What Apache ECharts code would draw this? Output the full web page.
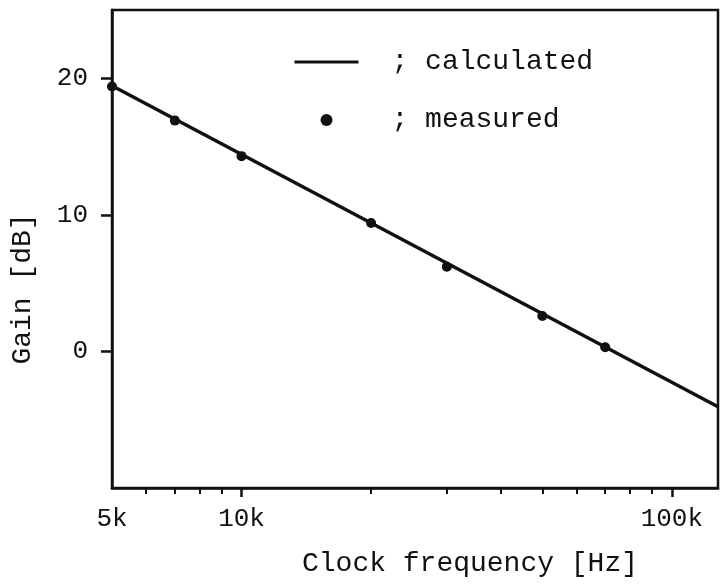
<!DOCTYPE html>
<html>
<head>
<meta charset="utf-8">
<script src="https://cdn.jsdelivr.net/npm/echarts@6/dist/echarts.min.js"></script>
<style>
  html, body { margin: 0; padding: 0; background: #fff; }
  #main { width: 721px; height: 584px; }
</style>
</head>
<body>
<div id="main"></div>
<script>
// measured points (frequency in Hz, gain in dB)
const freqMeasured = [5000, 7000, 10000, 20000, 30000, 50000, 70000];
const gainMeasured = [19.4, 16.9, 14.3, 9.4, 6.2, 2.6, 0.3];
// calculated straight line, end points
const freqCalc = [5000, 128000];
const gainCalc = [19.45, -4.05];
// axis ticks
const xLabelValues = [5000, 10000, 100000];
const xMajorTicks = [10000, 100000];
const xMinorTicks = [6000, 7000, 8000, 9000, 20000, 30000, 40000, 50000, 60000, 70000, 80000, 90000];
const yTicks = [0, 10, 20];

const font = 'Liberation Mono';
const black = '#111';

var myChart = echarts.init(document.getElementById('main'));

var option = {
  animation: false,
  backgroundColor: '#fff',
  grid: {
    left: 112, right: 3, top: 10, bottom: 96,
    show: true, borderColor: black, borderWidth: 2.5
  },
  legend: {
    data: [
      { name: 'calculated', itemStyle: { opacity: 0 }, lineStyle: { width: 3, color: black } },
      'measured'
    ],
    orient: 'vertical',
    left: 288, top: 43,
    itemWidth: 64, itemHeight: 12, itemGap: 30,
    formatter: '; {name}',
    textStyle: { fontFamily: font, fontSize: 28, color: black, padding: [0, 0, 0, 28] }
  },
  xAxis: [{
    type: 'log', logBase: 10, min: 5000, max: 128000,
    axisLine: { onZero: false, lineStyle: { color: black, width: 2.5 } },
    axisTick: { customValues: xMajorTicks, length: 9, lineStyle: { color: black, width: 2.5 } },
    axisLabel: {
      customValues: xLabelValues,
      formatter: v => Math.round(v / 1000) + 'k',
      fontFamily: font, fontSize: 26, color: black, margin: 18
    },
    splitLine: { show: false },
    name: 'Clock frequency [Hz]',
    nameLocation: 'middle', nameGap: 62,
    nameTextStyle: { fontFamily: font, fontSize: 28, color: black, padding: [0, 0, 0, 110] }
  }, {
    type: 'log', logBase: 10, min: 5000, max: 128000, position: 'bottom',
    axisLine: { show: false, onZero: false },
    axisTick: { customValues: xMinorTicks, length: 6, lineStyle: { color: black, width: 2 } },
    axisLabel: { show: false },
    splitLine: { show: false }
  }],
  yAxis: {
    type: 'value', min: -10, max: 25,
    axisLine: { onZero: false, lineStyle: { color: black, width: 2.5 } },
    axisTick: { customValues: yTicks, length: 11, lineStyle: { color: black, width: 2.5 } },
    axisLabel: { customValues: yTicks, fontFamily: font, fontSize: 26, color: black, margin: 24 },
    splitLine: { show: false }
  },
  graphic: [{
    type: 'text', x: 23, y: 289, rotation: Math.PI / 2,
    style: { text: 'Gain [dB]', fontFamily: font, fontSize: 28, fill: black,
             textAlign: 'center', textVerticalAlign: 'middle' }
  }],
  series: [{
    name: 'calculated', type: 'line',
    data: freqCalc.map((f, i) => [f, gainCalc[i]]),
    symbol: 'none', lineStyle: { color: black, width: 3.5 }, itemStyle: { color: black }
  }, {
    name: 'measured', type: 'scatter',
    data: freqMeasured.map((f, i) => [f, gainMeasured[i]]),
    symbolSize: 10, itemStyle: { color: black, opacity: 1 }, z: 3
  }]
};

myChart.setOption(option);
</script>
</body>
</html>
